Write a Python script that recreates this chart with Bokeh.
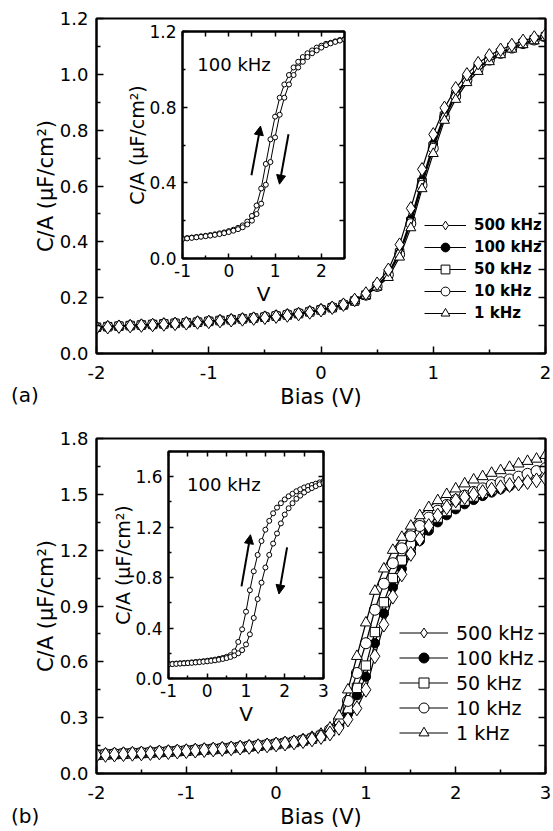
import numpy as np
from bokeh.plotting import figure
from bokeh.models import (Range1d, LinearAxis, FixedTicker, PrintfTickFormatter,
                          Legend, LegendItem, Label, Arrow, NormalHead, Div)
from bokeh.layouts import column
from bokeh.embed import file_html
from bokeh.resources import INLINE

FONT = "DejaVu Sans"

# ---------------- data: panel (a) ----------------
bias_a = np.round(np.arange(-2.0, 2.001, 0.1), 2)
ca_500k = [0.092,0.094,0.096,0.098,0.100,0.102,0.104,0.106,0.108,0.111,
           0.113,0.116,0.119,0.122,0.125,0.128,0.132,0.136,0.141,0.147,
           0.155,0.164,0.175,0.192,0.215,0.250,0.300,0.390,0.520,0.660,
           0.785,0.880,0.950,1.000,1.040,1.068,1.088,1.105,1.120,1.132,1.142]
ca_100k = [0.093,0.095,0.097,0.099,0.101,0.103,0.105,0.107,0.109,0.111,
           0.114,0.117,0.120,0.123,0.126,0.129,0.133,0.137,0.142,0.148,
           0.155,0.163,0.173,0.188,0.210,0.243,0.288,0.365,0.480,0.620,
           0.750,0.855,0.930,0.985,1.025,1.055,1.078,1.097,1.112,1.125,1.136]
ca_50k = [0.094,0.096,0.098,0.100,0.102,0.104,0.106,0.108,0.110,0.112,
          0.115,0.118,0.121,0.124,0.127,0.130,0.134,0.138,0.143,0.149,
          0.156,0.164,0.174,0.188,0.209,0.241,0.285,0.360,0.472,0.612,
          0.742,0.850,0.926,0.982,1.022,1.053,1.077,1.096,1.111,1.124,1.135]
ca_10k = [0.094,0.096,0.098,0.100,0.102,0.104,0.106,0.108,0.110,0.113,
          0.115,0.118,0.121,0.124,0.127,0.131,0.135,0.139,0.144,0.150,
          0.157,0.165,0.175,0.189,0.209,0.240,0.282,0.355,0.465,0.603,
          0.735,0.845,0.922,0.979,1.020,1.051,1.075,1.094,1.110,1.123,1.134]
ca_1k = [0.095,0.097,0.099,0.101,0.103,0.105,0.107,0.109,0.111,0.114,
         0.116,0.119,0.122,0.125,0.128,0.132,0.136,0.140,0.145,0.151,
         0.158,0.166,0.176,0.189,0.208,0.238,0.272,0.345,0.450,0.590,
         0.716,0.835,0.910,0.970,1.010,1.045,1.070,1.090,1.106,1.120,1.132]

# inset (a): 100 kHz hysteresis
v_ia = np.round(np.arange(-1.0, 2.501, 0.1), 2)
ia_left = [0.105,0.108,0.111,0.114,0.117,0.120,0.124,0.128,0.133,0.138,
           0.145,0.152,0.162,0.175,0.195,0.225,0.280,0.370,0.500,0.630,
           0.750,0.850,0.920,0.970,1.010,1.040,1.065,1.085,1.100,1.115,
           1.125,1.135,1.140,1.148,1.155,1.160]
ia_right = [0.103,0.106,0.109,0.112,0.115,0.118,0.121,0.125,0.129,0.134,
            0.140,0.147,0.155,0.165,0.180,0.200,0.235,0.290,0.390,0.510,
            0.640,0.760,0.850,0.920,0.970,1.010,1.040,1.065,1.085,1.100,
            1.115,1.128,1.137,1.145,1.152,1.158]
arrows_ia = [(0.49, 0.44, 0.685, 0.70), (1.29, 0.657, 1.095, 0.393)]

# ---------------- data: panel (b) ----------------
bias_b = np.round(np.arange(-2.0, 3.001, 0.1), 2)
cb_500k = [0.098,0.100,0.102,0.104,0.106,0.108,0.110,0.113,0.115,0.118,
           0.120,0.123,0.126,0.129,0.132,0.135,0.139,0.143,0.147,0.151,
           0.156,0.161,0.167,0.174,0.183,0.196,0.215,0.245,0.290,0.350,
           0.450,0.630,0.800,0.950,1.070,1.180,1.260,1.330,1.386,1.430,
           1.467,1.485,1.500,1.512,1.525,1.538,1.550,1.558,1.566,1.575,1.585]
cb_100k = [0.099,0.101,0.103,0.105,0.107,0.109,0.111,0.114,0.116,0.119,
           0.121,0.124,0.127,0.130,0.133,0.136,0.140,0.144,0.148,0.152,
           0.157,0.162,0.168,0.175,0.185,0.199,0.222,0.258,0.320,0.420,
           0.520,0.700,0.860,1.000,1.100,1.185,1.250,1.305,1.350,1.388,
           1.420,1.447,1.470,1.491,1.510,1.527,1.543,1.558,1.573,1.587,1.600]
cb_50k = [0.100,0.102,0.104,0.106,0.108,0.110,0.112,0.115,0.117,0.120,
          0.122,0.125,0.128,0.131,0.134,0.137,0.141,0.145,0.149,0.153,
          0.158,0.163,0.169,0.177,0.187,0.202,0.228,0.270,0.350,0.460,
          0.580,0.760,0.920,1.050,1.145,1.225,1.285,1.335,1.375,1.410,
          1.440,1.466,1.488,1.508,1.527,1.545,1.561,1.576,1.591,1.605,1.620]
cb_10k = [0.101,0.103,0.105,0.107,0.109,0.111,0.113,0.116,0.118,0.121,
          0.123,0.126,0.129,0.132,0.135,0.138,0.142,0.146,0.150,0.154,
          0.159,0.164,0.171,0.179,0.190,0.206,0.235,0.285,0.390,0.540,
          0.700,0.880,1.020,1.130,1.210,1.275,1.330,1.375,1.412,1.443,
          1.470,1.493,1.513,1.532,1.550,1.565,1.580,1.595,1.610,1.625,1.640]
cb_1k = [0.102,0.104,0.106,0.108,0.110,0.112,0.114,0.117,0.119,0.122,
         0.124,0.127,0.130,0.133,0.136,0.139,0.143,0.147,0.151,0.155,
         0.160,0.166,0.173,0.182,0.195,0.212,0.245,0.310,0.450,0.630,
         0.810,0.980,1.100,1.200,1.270,1.330,1.386,1.430,1.467,1.500,
         1.530,1.557,1.578,1.596,1.614,1.628,1.646,1.664,1.678,1.690,1.710]

v_ib = np.round(np.arange(-1.0, 3.001, 0.1), 2)
ib_left = [0.115,0.117,0.119,0.121,0.123,0.125,0.128,0.131,0.134,0.137,
           0.141,0.145,0.150,0.156,0.163,0.172,0.185,0.215,0.290,0.390,
           0.530,0.700,0.850,0.980,1.090,1.180,1.250,1.310,1.355,1.390,
           1.420,1.445,1.465,1.485,1.500,1.515,1.525,1.535,1.545,1.555,1.565]
ib_right = [0.112,0.114,0.116,0.118,0.120,0.122,0.124,0.127,0.130,0.133,
            0.136,0.140,0.144,0.149,0.155,0.162,0.171,0.183,0.200,0.225,
            0.270,0.350,0.480,0.630,0.760,0.880,0.980,1.070,1.150,1.230,
            1.300,1.350,1.390,1.425,1.450,1.475,1.495,1.510,1.525,1.540,1.550]
arrows_ib = [(0.884, 0.73, 1.116, 1.14), (2.06, 1.04, 1.85, 0.67)]

freq_labels = ["500 kHz", "100 kHz", "50 kHz", "10 kHz", "1 kHz"]
panel_tags = ["(a)", "(b)"]

# tick positions
xt_a = [-2, -1, 0, 1, 2]
xt_a_minor = [-1.5, -0.5, 0.5, 1.5]
yt_a = [0.0, 0.2, 0.4, 0.6, 0.8, 1.0, 1.2]
yt_a_minor = [0.1, 0.3, 0.5, 0.7, 0.9, 1.1]
yt_a_right = [0.0, 0.1, 0.2, 0.3, 0.4, 0.5, 0.6, 0.7, 0.8, 0.9, 1.0, 1.1, 1.2]
xt_b = [-2, -1, 0, 1, 2, 3]
xt_b_minor = [-1.5, -0.5, 0.5, 1.5, 2.5]
yt_b = [0.0, 0.3, 0.6, 0.9, 1.2, 1.5, 1.8]
yt_b_minor = [0.15, 0.45, 0.75, 1.05, 1.35, 1.65]
yt_b_right = [0.0, 0.15, 0.3, 0.45, 0.6, 0.75, 0.9, 1.05, 1.2, 1.35, 1.5, 1.65, 1.8]
xt_ia = [-1, 0, 1, 2]
xt_ia_minor = [-0.5, 0.5, 1.5, 2.5]
yt_ia = [0.0, 0.4, 0.8, 1.2]
yt_ia_minor = [0.2, 0.6, 1.0]
xt_ib = [-1, 0, 1, 2, 3]
xt_ib_minor = [-0.5, 0.5, 1.5, 2.5]
yt_ib = [0.0, 0.4, 0.8, 1.2, 1.6]
yt_ib_minor = [0.2, 0.6, 1.0, 1.4, 1.8]


def style_axis(ax, ticks, minor, fmt, tick_size, label_size, major_in, minor_in,
               label_standoff, axis_label_standoff, hide=False):
    ax.ticker = FixedTicker(ticks=ticks, minor_ticks=minor)
    ax.axis_line_width = 2
    ax.axis_line_color = "black"
    ax.major_tick_in = major_in
    ax.major_tick_out = 0
    ax.minor_tick_in = minor_in
    ax.minor_tick_out = 0
    ax.major_tick_line_width = 1.5
    ax.minor_tick_line_width = 1.5
    ax.major_tick_line_color = "black"
    ax.minor_tick_line_color = "black"
    if hide:
        ax.major_label_text_font_size = "0px"
        ax.major_label_text_color = None
        ax.major_label_standoff = 0
        ax.axis_label = None
    else:
        ax.formatter = PrintfTickFormatter(format=fmt)
        ax.major_label_text_font = FONT
        ax.major_label_text_font_size = tick_size
        ax.major_label_text_color = "black"
        ax.major_label_standoff = label_standoff
        ax.axis_label_text_font = FONT
        ax.axis_label_text_font_size = label_size
        ax.axis_label_text_font_style = "normal"
        ax.axis_label_text_color = "black"
        ax.axis_label_standoff = axis_label_standoff


def base_fig(w, h, xr, yr, bl, br, bt, bb):
    p = figure(width=w, height=h, x_range=Range1d(*xr), y_range=Range1d(*yr),
               output_backend="svg", toolbar_location=None,
               min_border_left=bl, min_border_right=br, min_border_top=bt, min_border_bottom=bb)
    p.xgrid.visible = False
    p.ygrid.visible = False
    p.outline_line_color = "black"
    p.outline_line_width = 2
    p.outline_line_alpha = 1
    return p


def main_panel(p, bias, series, size, xt, xtm, yt, ytm, ytr,
               leg_loc, leg_h, leg_w, leg_font, leg_style):
    style_axis(p.xaxis[0], xt, xtm, "%d", "18px", "21px", 7, 4, 12, 3)
    p.xaxis[0].axis_label = "Bias (V)"
    style_axis(p.yaxis[0], yt, ytm, "%.1f", "18px", "21px", 7, 4, 8, -1)
    p.yaxis[0].axis_label = "C/A (\u03bcF/cm\u00b2)"
    rax = LinearAxis()
    style_axis(rax, ytr, [], "%.1f", "18px", "18px", 7, 0, 0, 0, hide=True)
    p.add_layout(rax, "right")

    specs = {
        "500 kHz": dict(marker="diamond", fill_color="white", size=size * 1.35),
        "100 kHz": dict(marker="circle", fill_color="black", size=size * 0.85),
        "50 kHz": dict(marker="square", fill_color="white", size=size * 0.85),
        "10 kHz": dict(marker="circle", fill_color="white", size=size),
        "1 kHz": dict(marker="triangle", fill_color="white", size=size),
    }
    renders = {}
    for lab in ["100 kHz", "50 kHz", "10 kHz", "1 kHz", "500 kHz"]:
        y = series[lab]
        s = specs[lab]
        lr = p.line(bias, y, line_color="black", line_width=1.2)
        sr = p.scatter(bias, y, marker=s["marker"], size=s["size"],
                       fill_color=s["fill_color"], line_color="black", line_width=1)
        renders[lab] = [lr, sr]
    items = [LegendItem(label=lab, renderers=renders[lab]) for lab in freq_labels]
    leg = Legend(items=items, location=leg_loc, padding=0, margin=0,
                 glyph_height=leg_h, glyph_width=leg_w, label_height=leg_h, spacing=0,
                 label_standoff=8, label_text_font=FONT, label_text_font_size=leg_font,
                 label_text_font_style=leg_style, label_text_color="black",
                 border_line_color=None, background_fill_alpha=0)
    p.add_layout(leg)


def inset_panel(p, v, left, right, arrows, xt, xtm, yt, ytm, txt_xy):
    p.background_fill_color = "white"
    p.border_fill_color = None
    style_axis(p.xaxis[0], xt, xtm, "%d", "17px", "20px", 5, 3, 5, 2)
    p.xaxis[0].axis_label = "V"
    style_axis(p.yaxis[0], yt, ytm, "%.1f", "17px", "19px", 5, 3, 6, -2)
    p.yaxis[0].axis_label = "C/A (\u03bcF/cm\u00b2)"
    tax = LinearAxis()
    style_axis(tax, sorted(xt + xtm), [], "%d", "17px", "17px", 5, 0, 0, 0, hide=True)
    p.add_layout(tax, "above")
    rax = LinearAxis()
    style_axis(rax, sorted(yt + ytm), [], "%.1f", "17px", "17px", 5, 0, 0, 0, hide=True)
    p.add_layout(rax, "right")
    for y in (left, right):
        p.line(v, y, line_color="black", line_width=1)
        p.scatter(v, y, marker="circle", size=5, fill_color="white", line_color="black",
                  line_width=1)
    for (x0, y0, x1, y1) in arrows:
        p.add_layout(Arrow(end=NormalHead(size=9, fill_color="black", line_color="black"),
                           x_start=x0, y_start=y0, x_end=x1, y_end=y1,
                           line_width=2, line_color="black"))
    p.add_layout(Label(x=txt_xy[0], y=txt_xy[1], text="100 kHz", text_font=FONT,
                       text_font_size="18px", text_baseline="middle", text_align="left",
                       text_color="black"))


def tag_div(text):
    return Div(text=text, width=44, height=28,
               styles={"font-family": FONT, "font-size": "20px", "line-height": "28px",
                       "color": "black", "white-space": "nowrap"})


# ---------------- panel (a) ----------------
pa = base_fig(553, 418, (-2, 2), (0, 1.2), 92, 6, 18, 65)
main_panel(pa, bias_a,
           {"500 kHz": ca_500k, "100 kHz": ca_100k, "50 kHz": ca_50k,
            "10 kHz": ca_10k, "1 kHz": ca_1k},
           10, xt_a, xt_a_minor, yt_a, yt_a_minor, yt_a_right,
           (328, 29), 22, 42, "15px", "bold")

ia = base_fig(96 + 162 + 8, 289, (-1, 2.5), (0, 1.2), 96, 8, 12, 45)
inset_panel(ia, v_ia, ia_left, ia_right, arrows_ia, xt_ia, xt_ia_minor, yt_ia, yt_ia_minor,
            (-0.68, 1.024))
ia.margin = (19 - 418, 0, 418 - (19 + 289), 86)

ta = tag_div(panel_tags[0])
ta.margin = (381 - 418, 0, 418 - (381 + 28), 11)

# ---------------- panel (b) ----------------
pb = base_fig(553, 413, (-2, 3), (0, 1.8), 90, 6, 20, 58)
main_panel(pb, bias_b,
           {"500 kHz": cb_500k, "100 kHz": cb_100k, "50 kHz": cb_50k,
            "10 kHz": cb_10k, "1 kHz": cb_1k},
           11, xt_b, xt_b_minor, yt_b, yt_b_minor, yt_b_right,
           (303, 28), 25, 49, "19px", "normal")

ib = base_fig(96 + 155 + 8, 289, (-1, 3), (0, 1.8), 96, 8, 12, 45)
inset_panel(ib, v_ib, ib_left, ib_right, arrows_ib, xt_ib, xt_ib_minor, yt_ib, yt_ib_minor,
            (-0.52, 1.536))
ib.margin = (439 - 831, 0, 831 - (439 + 289), 72)

tb = tag_div(panel_tags[1])
tb.margin = (802 - 831, 0, 831 - (802 + 28), 11)

layout = column(pa, ia, ta, pb, ib, tb, spacing=0)
open("out.html", "w").write(file_html(layout, INLINE))
